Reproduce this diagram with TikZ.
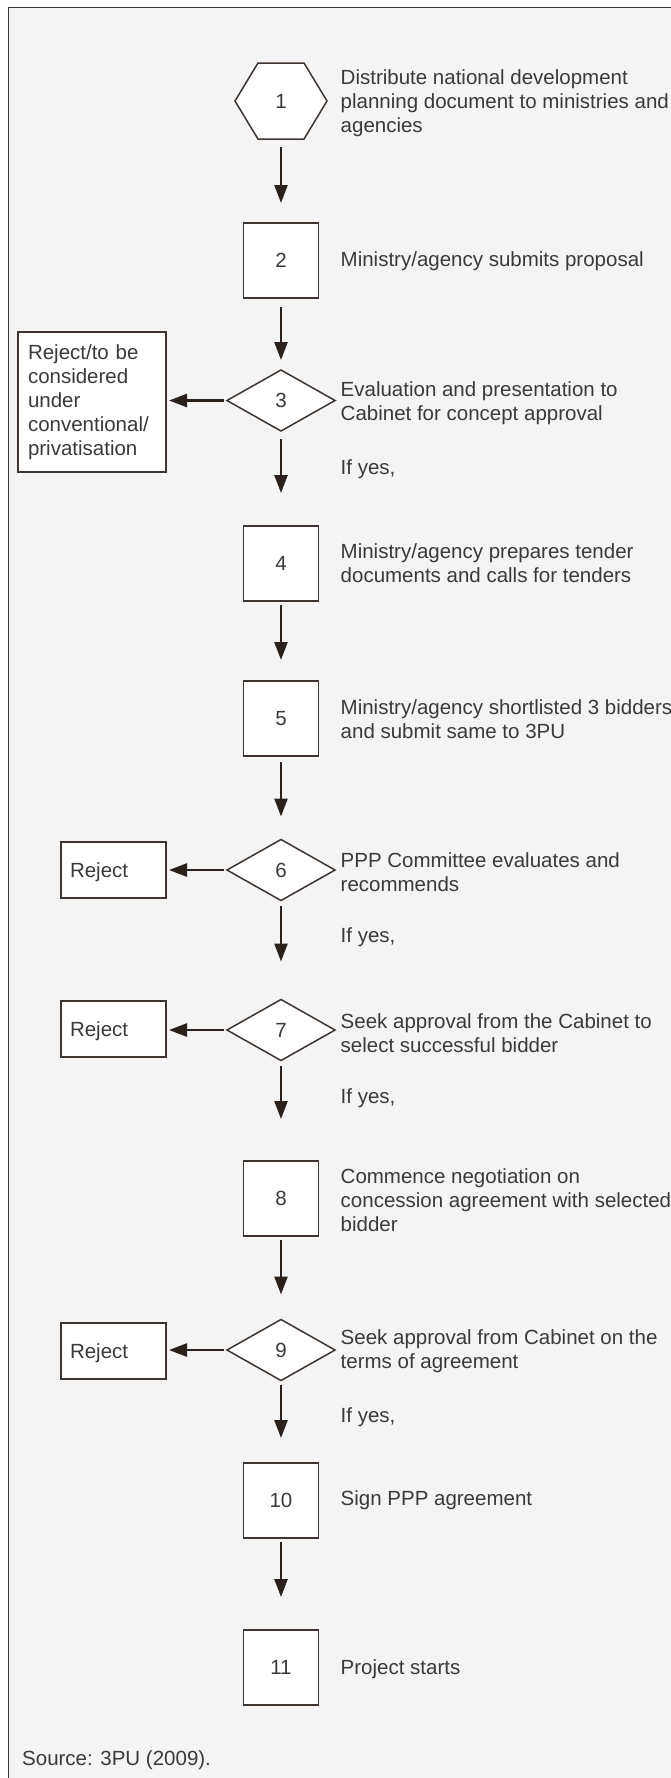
\documentclass[tikz,border=0pt]{standalone}
\usepackage{fontspec}
\setmainfont{Liberation Sans}
\usetikzlibrary{arrows.meta,shapes.geometric,calc}
\definecolor{bg}{HTML}{F4F4F4}
\definecolor{ln}{HTML}{3E3530}
\definecolor{ar}{HTML}{2B211C}
\definecolor{tx}{HTML}{3A3A3A}
\begin{document}
\begin{tikzpicture}[x=1pt,y=-1pt,
  every node/.style={font=\fontsize{20.5}{24}\selectfont, text=tx},
  sq/.style={draw=ln, line width=1.5pt, fill=white, minimum width=75pt, minimum height=75pt, inner sep=0pt, outer sep=0pt},
  dia/.style={diamond, draw=ln, line width=1.5pt, fill=white, aspect=1.77, minimum width=108pt, minimum height=61pt, inner sep=0pt, outer sep=0pt},
  rej/.style={draw=ln, line width=1.5pt, fill=white, minimum width=105pt, minimum height=56pt, inner xsep=9pt, text width=87pt, align=left, outer sep=0pt, text depth=0pt},
  desc/.style={anchor=west, align=left, inner sep=0pt, yshift=-2.5pt},
  arr/.style={draw=ar, line width=2.5pt, -{Triangle[length=18pt,width=13pt]}},
  hexline/.style={draw=ln, line width=1.5pt, fill=white},
]
\useasboundingbox (0,0) rectangle (670,1778);
\fill[bg] (8.5,7.5) rectangle (690,1800);
\draw[ln, line width=1.5pt] (8.5,1800) -- (8.5,7.5) -- (690,7.5);

% step 1 hexagon
\coordinate (c1) at (281,101);
\draw[hexline] ($(c1)+(-46,0)$) -- ($(c1)+(-23,-38)$) -- ($(c1)+(23,-38)$) -- ($(c1)+(46,0)$) -- ($(c1)+(23,38)$) -- ($(c1)+(-23,38)$) -- cycle;
\node[minimum width=92pt, minimum height=76pt, inner sep=0pt, outer sep=0pt] (n1) at (c1) {1};

% main steps
\node[sq] (n2) at (281,260.5) {2};
\node[dia] (n3) at (281,400.5) {3};
\node[sq] (n4) at (281,563.5) {4};
\node[sq] (n5) at (281,718.5) {5};
\node[dia] (n6) at (281,870) {6};
\node[dia] (n7) at (281,1030) {7};
\node[sq] (n8) at (281,1198.5) {8};
\node[dia] (n9) at (281,1350) {9};
\node[sq] (n10) at (281,1500.5) {10};
\node[sq] (n11) at (281,1667.5) {11};

% reject boxes
\node[draw=ln, line width=1.5pt, fill=white, minimum width=148pt, minimum height=140pt, inner xsep=10pt, text width=128pt, align=left, outer sep=0pt] (r3) at (92,402) {Reject/to be\\considered\\under\\conventional/\\privatisation};
\node[rej] (r6) at (113.5,870) {Reject};
\node[rej] (r7) at (113.5,1029) {Reject};
\node[rej] (r9) at (113.5,1351) {Reject};

% descriptions
\node[desc] (d1) at (340.5,101) {Distribute national development\\planning document to ministries and\\agencies};
\node[desc] (d2) at (340.5,259) {Ministry/agency submits proposal};
\node[desc] (d3) at (340.5,401) {Evaluation and presentation to\\Cabinet for concept approval};
\node[desc] (d4) at (340.5,561) {Ministry/agency prepares tender\\documents and calls for tenders};
\node[desc] (d5) at (340.5,716.5) {Ministry/agency shortlisted 3 bidders\\and submit same to 3PU};
\node[desc] (d6) at (340.5,869.5) {PPP Committee evaluates and\\recommends};
\node[desc] (d7) at (340.5,1030.5) {Seek approval from the Cabinet to\\select successful bidder};
\node[desc] (d8) at (340.5,1197.5) {Commence negotiation on\\concession agreement with selected\\bidder};
\node[desc] (d9) at (340.5,1348.5) {Seek approval from Cabinet on the\\terms of agreement};
\node[desc] (d10) at (340.5,1498) {Sign PPP agreement};
\node[desc] (d11) at (340.5,1667) {Project starts};

% if yes labels
\node[desc] (y3) at (340.5,467) {If yes,};
\node[desc] (y6) at (340.5,935) {If yes,};
\node[desc] (y7) at (340.5,1096) {If yes,};
\node[desc] (y9) at (340.5,1415) {If yes,};

% source
\node[desc] (src) at (22,1758) {Source: 3PU (2009).};

% vertical arrows
\draw[arr, shorten <=8pt, shorten >=20pt] (n1.south) -- (n2.north);
\draw[arr, shorten <=9pt, shorten >=10pt] (n2.south) -- (n3.north);
\draw[arr, shorten <=8pt, shorten >=33pt] (n3.south) -- (n4.north);
\draw[arr, shorten <=4pt, shorten >=21pt] (n4.south) -- (n5.north);
\draw[arr, shorten <=6pt, shorten >=23pt] (n5.south) -- (n6.north);
\draw[arr, shorten <=5pt, shorten >=38pt] (n6.south) -- (n7.north);
\draw[arr, shorten <=5pt, shorten >=42pt] (n7.south) -- (n8.north);
\draw[arr, shorten <=4pt, shorten >=25pt] (n8.south) -- (n9.north);
\draw[arr, shorten <=4pt, shorten >=25pt] (n9.south) -- (n10.north);
\draw[arr, shorten <=4pt, shorten >=33pt] (n10.south) -- (n11.north);

% reject arrows
\draw[arr, shorten <=3pt, shorten >=3pt] (n3.west) -- (r3.east |- n3.west);
\draw[arr, shorten <=3pt, shorten >=3pt] (n6.west) -- (r6.east |- n6.west);
\draw[arr, shorten <=3pt, shorten >=3pt] (n7.west) -- (r7.east |- n7.west);
\draw[arr, shorten <=3pt, shorten >=3pt] (n9.west) -- (r9.east |- n9.west);
\end{tikzpicture}
\end{document}
